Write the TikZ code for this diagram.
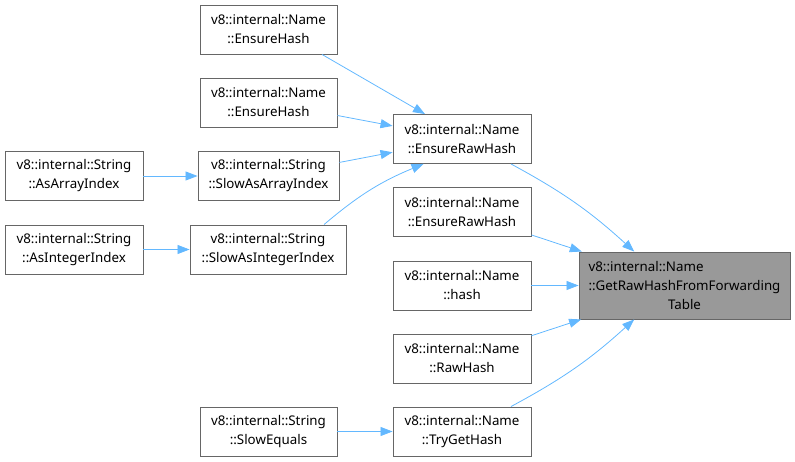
\documentclass[tikz,border=0pt]{standalone}
\usepackage{fontspec}
\setmainfont{Noto Sans}
\usetikzlibrary{arrows.meta}
\definecolor{edgeblue}{HTML}{63B8FF}
\definecolor{boxline}{HTML}{666666}
\definecolor{boxgray}{HTML}{999999}

\begin{document}
\begin{tikzpicture}[x=1pt,y=1pt,>={Triangle[length=12pt,width=9pt]},
  fn/.style={draw=boxline,line width=0.9pt,fill=white,minimum width=137pt,
    minimum height=49pt,inner sep=0pt,align=center,
    font=\fontsize{13.33}{19}\selectfont},
  call/.style={->,edgeblue,line width=0.8pt}]
  \useasboundingbox (0,0) rectangle (795,-462);
  % 左の列
  \node[fn,minimum width=138pt] (AAI) at (74,-176) {v8::internal::String\\::AsArrayIndex};
  \node[fn,minimum width=138pt] (AII) at (74,-249.5) {v8::internal::String\\::AsIntegerIndex};
  % 二列目
  \node[fn] (EH1) at (268.5,-29.5) {v8::internal::Name\\::EnsureHash};
  \node[fn] (EH2) at (268.5,-102.5) {v8::internal::Name\\::EnsureHash};
  \node[fn,minimum width=141pt] (SAAI) at (268.5,-176) {v8::internal::String\\::SlowAsArrayIndex};
  \node[fn,minimum width=156pt] (SAII) at (268,-249.5) {v8::internal::String\\::SlowAsIntegerIndex};
  \node[fn] (SE) at (268.5,-431.5) {v8::internal::String\\::SlowEquals};
  % 三列目
  \node[fn,minimum width=138pt] (ERH) at (462,-139) {v8::internal::Name\\::EnsureRawHash};
  \node[fn,minimum width=138pt] (ERH2) at (462,-212) {v8::internal::Name\\::EnsureRawHash};
  \node[fn,minimum width=138pt] (hash) at (462,-285.5) {v8::internal::Name\\::hash};
  \node[fn,minimum width=138pt] (RawHash) at (462,-358.5) {v8::internal::Name\\::RawHash};
  \node[fn,minimum width=138pt] (TGH) at (462,-431.5) {v8::internal::Name\\::TryGetHash};
  % 対象の関数
  \node[fn,fill=boxgray,minimum width=211pt,minimum height=67pt] (GRH) at (684.5,-285.5)
    {\rlap{v8::internal::Name}\phantom{::GetRawHashFromForwarding}\\::GetRawHashFromForwarding\\Table};
  % 矢印
  \draw[call] (AAI) -- (SAAI);
  \draw[call] (AII) -- (SAII);
  \draw[call] (SE) -- (TGH);
  \draw[call] (EH1.335) -- (ERH.146);
  \draw[call] (EH2) -- (ERH);
  \draw[call] (SAAI) -- (ERH);
  \draw[call] (SAII.24) to[bend left=9] (ERH.213);
  \draw[call] (ERH.333) to[bend left=7] (GRH.146);
  \draw[call] (ERH2) -- (GRH);
  \draw[call] (hash) -- (GRH);
  \draw[call] (RawHash) -- (GRH);
  \draw[call] (TGH.27) to[bend right=7] (GRH.214);
\end{tikzpicture}
\end{document}
